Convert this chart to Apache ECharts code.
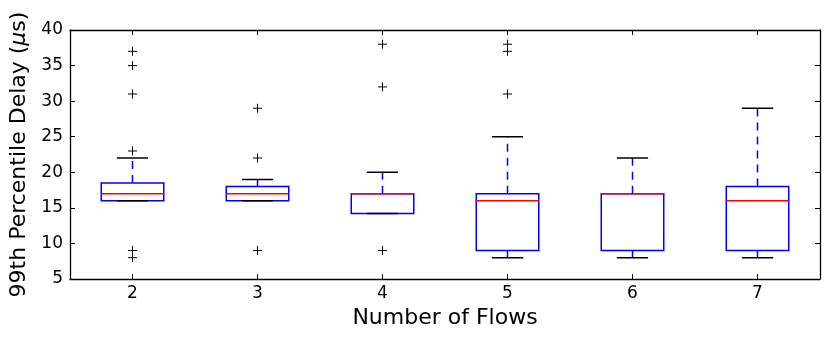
<!DOCTYPE html>
<html>
<head>
<meta charset="utf-8">
<script src="https://cdn.jsdelivr.net/npm/echarts@6/dist/echarts.min.js"></script>
<style>
  html, body { margin: 0; padding: 0; background: #fff; }
  #chart { width: 831px; height: 342px; }
</style>
</head>
<body>
<div id="chart"></div>
<script>
// 箱线图数据
var categories = ['2', '3', '4', '5', '6', '7']
var lowWhisker = [16, 16, 14.2, 8, 8, 8]
var q1 = [16, 16, 14.2, 9, 9, 9]
var median = [17, 17, 17, 16, 17, 16]
var q3 = [18.5, 18, 17, 17, 17, 18]
var highWhisker = [22, 19, 20, 25, 22, 29]
// 离群点: [类别下标, 数值]
var outliers = [
  [0, 37], [0, 35], [0, 31], [0, 23], [0, 9], [0, 8],
  [1, 29], [1, 22], [1, 9],
  [2, 38], [2, 32], [2, 9],
  [3, 38], [3, 37], [3, 31]
]
var yTicks = { min: 5, max: 40, interval: 5 }

var boxData = categories.map(function (c, i) {
  return [i, lowWhisker[i], q1[i], median[i], q3[i], highWhisker[i]]
})

var font = 'DejaVu Sans'

function renderBox(params, api) {
  var idx = api.value(0)
  var band = api.size([1, 0])[0]
  var half = band / 4
  var capHalf = band / 8
  var pLow = api.coord([idx, api.value(1)])
  var pQ1 = api.coord([idx, api.value(2)])
  var pMed = api.coord([idx, api.value(3)])
  var pQ3 = api.coord([idx, api.value(4)])
  var pHigh = api.coord([idx, api.value(5)])
  var x = pQ1[0]
  var blue = '#0000ff'
  var children = []
  // 箱体
  children.push({
    type: 'rect',
    shape: { x: x - half, y: pQ3[1], width: half * 2, height: pQ1[1] - pQ3[1] },
    style: { fill: 'none', stroke: blue, lineWidth: 1.5 }
  })
  // 中位线
  children.push({
    type: 'line',
    shape: { x1: x - half, y1: pMed[1], x2: x + half, y2: pMed[1] },
    style: { stroke: '#ff0000', lineWidth: 1.5 }
  })
  // 须线 (虚线)
  if (pHigh[1] < pQ3[1]) {
    children.push({
      type: 'line',
      shape: { x1: x, y1: pQ3[1], x2: x, y2: pHigh[1] },
      style: { stroke: blue, lineWidth: 1.5, lineDash: [8, 6] }
    })
  }
  if (pLow[1] > pQ1[1]) {
    children.push({
      type: 'line',
      shape: { x1: x, y1: pQ1[1], x2: x, y2: pLow[1] },
      style: { stroke: blue, lineWidth: 1.5, lineDash: [8, 6] }
    })
  }
  // 端线
  children.push({
    type: 'line',
    shape: { x1: x - capHalf, y1: pHigh[1], x2: x + capHalf, y2: pHigh[1] },
    style: { stroke: '#000', lineWidth: 1.5 }
  })
  children.push({
    type: 'line',
    shape: { x1: x - capHalf, y1: pLow[1], x2: x + capHalf, y2: pLow[1] },
    style: { stroke: '#000', lineWidth: 1.5 }
  })
  return { type: 'group', children: children }
}

function renderPlus(params, api) {
  var p = api.coord([api.value(0), api.value(1)])
  var s = 4.5
  return {
    type: 'group',
    children: [
      { type: 'line', shape: { x1: p[0] - s, y1: p[1], x2: p[0] + s, y2: p[1] }, style: { stroke: '#000', lineWidth: 1 } },
      { type: 'line', shape: { x1: p[0], y1: p[1] - s, x2: p[0], y2: p[1] + s }, style: { stroke: '#000', lineWidth: 1 } }
    ]
  }
}

var axisLine = { show: true, lineStyle: { color: '#000', width: 1.3 } }
var tickIn = { show: true, inside: true, length: 5, lineStyle: { color: '#000', width: 1 } }

var myChart = echarts.init(document.getElementById('chart'))
myChart.setOption({
  animation: false,
  textStyle: { fontFamily: font },
  grid: { left: 70, right: 11, top: 30, bottom: 63, outerBoundsMode: 'none' },
  xAxis: [
    {
      type: 'category',
      data: categories,
      position: 'bottom',
      name: 'Number of Flows',
      nameLocation: 'middle',
      nameGap: 28,
      nameTextStyle: { color: '#000', fontSize: 22, fontFamily: font, verticalAlign: 'top' },
      axisLine: axisLine,
      axisTick: Object.assign({ alignWithLabel: true }, tickIn),
      axisLabel: { color: '#000', fontSize: 17, margin: 6, fontFamily: font },
      splitLine: { show: false }
    },
    {
      type: 'category',
      data: categories,
      position: 'top',
      axisLine: axisLine,
      axisTick: Object.assign({ alignWithLabel: true }, tickIn),
      axisLabel: { show: false },
      splitLine: { show: false }
    }
  ],
  yAxis: [
    {
      type: 'value',
      min: yTicks.min,
      max: yTicks.max,
      interval: yTicks.interval,
      position: 'left',
      name: '99th Percentile Delay ({i|μ}s)',
      nameLocation: 'middle',
      nameGap: 35,
      nameTextStyle: {
        color: '#000',
        fontSize: 22,
        fontFamily: font,
        rich: { i: { fontStyle: 'italic', fontSize: 22, fontFamily: font, color: '#000' } }
      },
      axisLine: axisLine,
      axisTick: tickIn,
      axisLabel: { color: '#000', fontSize: 17, margin: 7, fontFamily: font },
      splitLine: { show: false }
    },
    {
      type: 'value',
      min: yTicks.min,
      max: yTicks.max,
      interval: yTicks.interval,
      position: 'right',
      axisLine: axisLine,
      axisTick: tickIn,
      axisLabel: { show: false },
      splitLine: { show: false }
    }
  ],
  series: [
    {
      type: 'custom',
      name: 'box',
      renderItem: renderBox,
      encode: { x: 0, y: [1, 2, 3, 4, 5] },
      data: boxData,
      z: 2
    },
    {
      type: 'custom',
      name: 'outliers',
      renderItem: renderPlus,
      encode: { x: 0, y: 1 },
      data: outliers,
      z: 3
    }
  ]
})
</script>
</body>
</html>
